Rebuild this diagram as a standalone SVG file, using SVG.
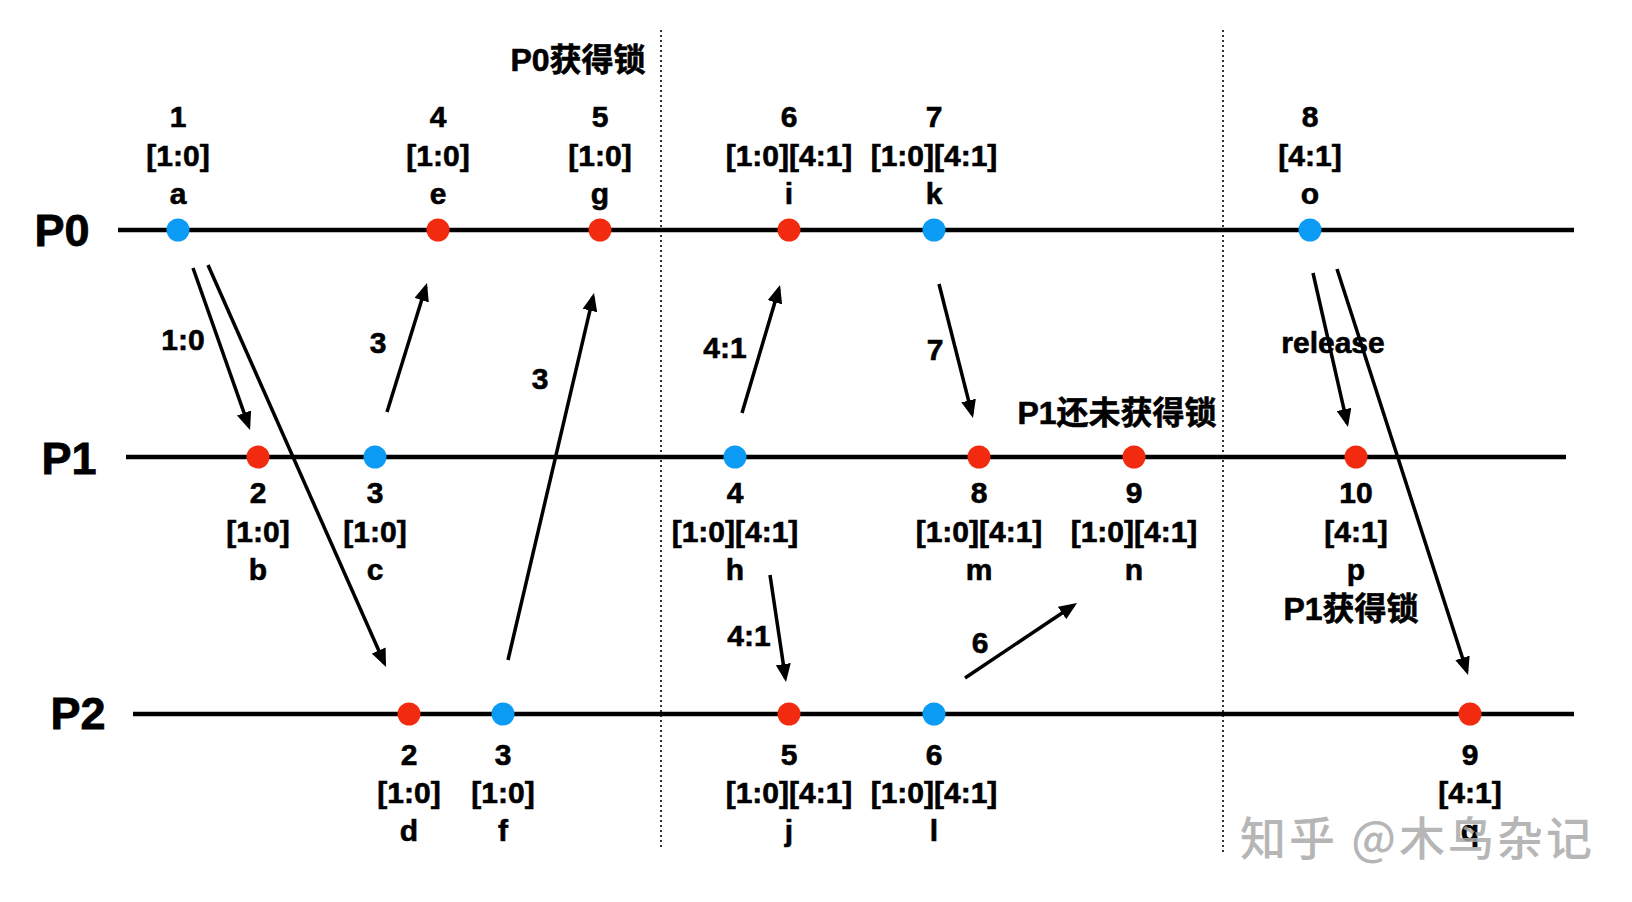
<svg xmlns="http://www.w3.org/2000/svg" width="1632" height="902" viewBox="0 0 1632 902">
<defs>
<marker id="ah" markerUnits="userSpaceOnUse" markerWidth="18" markerHeight="15" refX="14" refY="7.5" orient="auto">
<path d="M0,0 L18,7.5 L0,15 z" fill="#000"/>
</marker>
<style>
text{font-family:"Liberation Sans","Noto Sans CJK SC",Arial,sans-serif;font-weight:bold;fill:#000;text-anchor:middle}
.lbl{font-size:30px;stroke:#000;stroke-width:0.6}
.proc{font-size:45px;stroke:#000;stroke-width:0.8}
.note{font-size:32px;stroke:#000;stroke-width:0.6}
.axis{stroke:#000;stroke-width:4.5;fill:none}
.div{stroke:#000;stroke-width:1.6;stroke-dasharray:2 3;fill:none}
.red{fill:#F22B10}
.blue{fill:#0B9BF4}
.arr line{stroke:#000;stroke-width:3.5;marker-end:url(#ah)}
.wm{font-family:"Noto Sans CJK SC",sans-serif;font-weight:500;font-size:46px;fill:#a9a9a9;fill-opacity:0.85;letter-spacing:3px;text-anchor:start}
</style>
</defs>
<rect width="1632" height="902" fill="#fff"/>

<g id="dividers">
<line class="div" x1="661" y1="30" x2="661" y2="848"/>
<line class="div" x1="1223" y1="30" x2="1223" y2="853"/>
</g>

<g id="timelines">
<line class="axis" x1="118" y1="230" x2="1574" y2="230"/>
<line class="axis" x1="126" y1="457" x2="1566" y2="457"/>
<line class="axis" x1="133" y1="714" x2="1574" y2="714"/>
<text class="proc" x="62" y="246">P0</text>
<text class="proc" x="69" y="474">P1</text>
<text class="proc" x="78" y="729">P2</text>
</g>

<g id="notes">
<text class="note" x="578" y="71">P0获得锁</text>
<text class="note" x="1117" y="424">P1还未获得锁</text>
</g>

<g id="connectors" class="arr">
<line x1="193" y1="268" x2="248.7" y2="426.2"/>
<line x1="208" y1="265" x2="384.4" y2="663.3"/>
<line x1="387" y1="412" x2="425.8" y2="286.8"/>
<line x1="508" y1="660" x2="593.1" y2="296.9"/>
<line x1="742" y1="413" x2="778.9" y2="288.8"/>
<line x1="939" y1="284" x2="972" y2="414.1"/>
<line x1="770" y1="575" x2="785.4" y2="678"/>
<line x1="965" y1="678" x2="1073.7" y2="605.2"/>
<line x1="1313" y1="273" x2="1347.1" y2="423.1"/>
<line x1="1337" y1="269" x2="1466.8" y2="671.2"/>
</g>

<g id="connector-labels">
<text class="lbl" x="183" y="350">1:0</text>
<text class="lbl" x="378" y="353">3</text>
<text class="lbl" x="540" y="389">3</text>
<text class="lbl" x="725" y="358">4:1</text>
<text class="lbl" x="935" y="360">7</text>
<text class="lbl" x="749" y="646">4:1</text>
<text class="lbl" x="980" y="653">6</text>
<text class="lbl" x="1333" y="353">release</text>
</g>

<g id="node-a"><circle class="blue" cx="178" cy="230" r="11.5"/><text class="lbl" x="178" y="127">1</text><text class="lbl" x="178" y="166">[1:0]</text><text class="lbl" x="178" y="204">a</text></g>
<g id="node-e"><circle class="red" cx="438" cy="230" r="11.5"/><text class="lbl" x="438" y="127">4</text><text class="lbl" x="438" y="166">[1:0]</text><text class="lbl" x="438" y="204">e</text></g>
<g id="node-g"><circle class="red" cx="600" cy="230" r="11.5"/><text class="lbl" x="600" y="127">5</text><text class="lbl" x="600" y="166">[1:0]</text><text class="lbl" x="600" y="204">g</text></g>
<g id="node-i"><circle class="red" cx="789" cy="230" r="11.5"/><text class="lbl" x="789" y="127">6</text><text class="lbl" x="789" y="166">[1:0][4:1]</text><text class="lbl" x="789" y="204">i</text></g>
<g id="node-k"><circle class="blue" cx="934" cy="230" r="11.5"/><text class="lbl" x="934" y="127">7</text><text class="lbl" x="934" y="166">[1:0][4:1]</text><text class="lbl" x="934" y="204">k</text></g>
<g id="node-o"><circle class="blue" cx="1310" cy="230" r="11.5"/><text class="lbl" x="1310" y="127">8</text><text class="lbl" x="1310" y="166">[4:1]</text><text class="lbl" x="1310" y="204">o</text></g>

<g id="node-b"><circle class="red" cx="258" cy="457" r="11.5"/><text class="lbl" x="258" y="503">2</text><text class="lbl" x="258" y="542">[1:0]</text><text class="lbl" x="258" y="580">b</text></g>
<g id="node-c"><circle class="blue" cx="375" cy="457" r="11.5"/><text class="lbl" x="375" y="503">3</text><text class="lbl" x="375" y="542">[1:0]</text><text class="lbl" x="375" y="580">c</text></g>
<g id="node-h"><circle class="blue" cx="735" cy="457" r="11.5"/><text class="lbl" x="735" y="503">4</text><text class="lbl" x="735" y="542">[1:0][4:1]</text><text class="lbl" x="735" y="580">h</text></g>
<g id="node-m"><circle class="red" cx="979" cy="457" r="11.5"/><text class="lbl" x="979" y="503">8</text><text class="lbl" x="979" y="542">[1:0][4:1]</text><text class="lbl" x="979" y="580">m</text></g>
<g id="node-n"><circle class="red" cx="1134" cy="457" r="11.5"/><text class="lbl" x="1134" y="503">9</text><text class="lbl" x="1134" y="542">[1:0][4:1]</text><text class="lbl" x="1134" y="580">n</text></g>
<g id="node-p"><circle class="red" cx="1356" cy="457" r="11.5"/><text class="lbl" x="1356" y="503">10</text><text class="lbl" x="1356" y="542">[4:1]</text><text class="lbl" x="1356" y="580">p</text><text class="note" x="1351" y="620">P1获得锁</text></g>

<g id="node-d"><circle class="red" cx="409" cy="714" r="11.5"/><text class="lbl" x="409" y="765">2</text><text class="lbl" x="409" y="803">[1:0]</text><text class="lbl" x="409" y="841">d</text></g>
<g id="node-f"><circle class="blue" cx="503" cy="714" r="11.5"/><text class="lbl" x="503" y="765">3</text><text class="lbl" x="503" y="803">[1:0]</text><text class="lbl" x="503" y="841">f</text></g>
<g id="node-j"><circle class="red" cx="789" cy="714" r="11.5"/><text class="lbl" x="789" y="765">5</text><text class="lbl" x="789" y="803">[1:0][4:1]</text><text class="lbl" x="789" y="841">j</text></g>
<g id="node-l"><circle class="blue" cx="934" cy="714" r="11.5"/><text class="lbl" x="934" y="765">6</text><text class="lbl" x="934" y="803">[1:0][4:1]</text><text class="lbl" x="934" y="841">l</text></g>
<g id="node-q"><circle class="red" cx="1470" cy="714" r="11.5"/><text class="lbl" x="1470" y="765">9</text><text class="lbl" x="1470" y="803">[4:1]</text><text class="lbl" x="1470" y="841">q</text></g>

<g id="watermark"><text class="wm" x="1240" y="855">知乎 @木鸟杂记</text></g>
</svg>
